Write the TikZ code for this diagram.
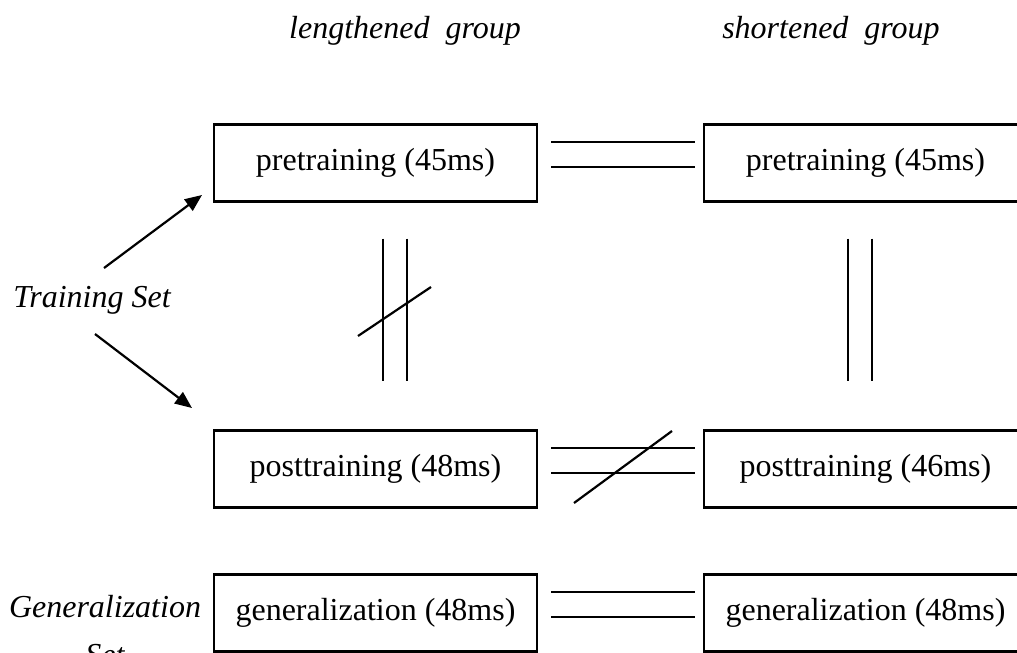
\documentclass[tikz,border=0pt]{standalone}
\usepackage{fontspec}
\setmainfont{Liberation Serif}
\usetikzlibrary{arrows.meta,calc}
\begin{document}
\begin{tikzpicture}[x=1pt,y=-1pt,
  box/.style={draw,line width=2.2pt,minimum width=323pt,minimum height=77pt,inner sep=0pt,font=\fontsize{32}{38}\selectfont},
  lbl/.style={font=\fontsize{32}{38}\selectfont\itshape,inner sep=0pt},
  ln/.style={line width=2.2pt},
  arr/.style={line width=2.2pt,-{Triangle[length=17pt,width=14pt]}}]
\useasboundingbox (0,0) rectangle (1017,653);
\clip (0,0) rectangle (1017,653);
% headers
\node[lbl,anchor=base] (hl) at (405,38) {lengthened\ \ group};
\node[lbl,anchor=base] (hs) at (831,38) {shortened\ \ group};
% boxes
\node[box] (preL) at (375.5,163) {pretraining (45ms)};
\node[box] (preR) at (865.5,163) {pretraining (45ms)};
\node[box] (postL) at (375.5,469) {posttraining (48ms)};
\node[box] (postR) at (865.5,469) {posttraining (46ms)};
\node[box] (genL) at (375.5,613) {generalization (48ms)};
\node[box] (genR) at (865.5,613) {generalization (48ms)};
% side labels
\node[lbl,anchor=base] (ts) at (92,307) {Training Set};
\node[lbl,anchor=base,align=center] (gs) at (105,665) {Generalization\\[10pt]Set};
% arrows
\coordinate (a1s) at (104,268);
\coordinate (a1e) at (202,195);
\coordinate (a2s) at (95,334);
\coordinate (a2e) at (192,408);
\draw[arr] (a1s) -- (a1e);
\draw[arr] (a2s) -- (a2e);
% horizontal double lines
\foreach \l/\r in {preL/preR,postL/postR,genL/genR}{
  \draw[ln] ($(\l.east)+(13,-21)$) -- ($(\r.west)+(-8,-21)$);
  \draw[ln] ($(\l.east)+(13,4)$) -- ($(\r.west)+(-8,4)$);
}
% vertical double lines
\draw[ln] ($(preL.south)+(7.5,36)$) -- ($(postL.north)+(7.5,-48)$);
\draw[ln] ($(preL.south)+(31.5,36)$) -- ($(postL.north)+(31.5,-48)$);
\draw[ln] ($(preR.south)+(-17.5,36)$) -- ($(postR.north)+(-17.5,-48)$);
\draw[ln] ($(preR.south)+(6.5,36)$) -- ($(postR.north)+(6.5,-48)$);
% slashes
\coordinate (s1a) at (358,336);
\coordinate (s1b) at (431,287);
\coordinate (s2a) at (574,503);
\coordinate (s2b) at (672,431);
\draw[ln] (s1a) -- (s1b);
\draw[ln] (s2a) -- (s2b);
\end{tikzpicture}
\end{document}
